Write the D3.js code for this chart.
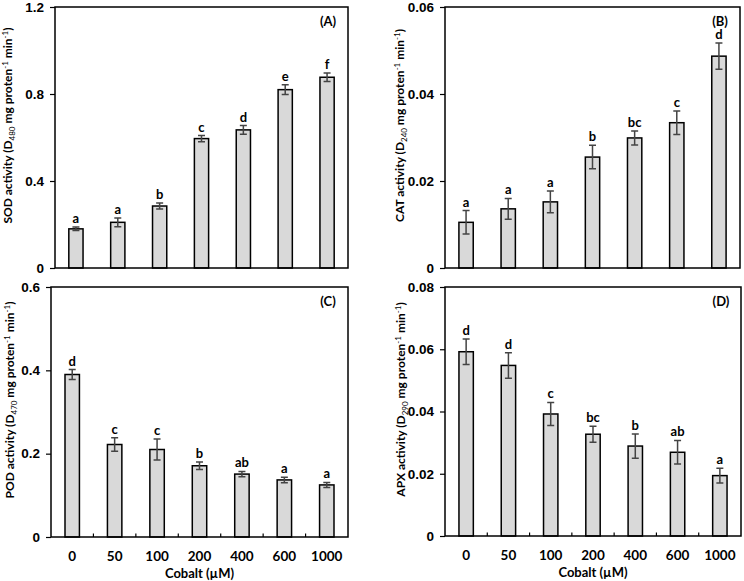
<!DOCTYPE html>
<html>
<head>
<meta charset="utf-8">
<script src="https://cdn.jsdelivr.net/npm/d3@7"></script>
<style>
    body { margin: 0; background: #fff; }
    svg { display: block; font-family: Lato, "Open Sans", sans-serif; }
    .frame { fill: none; stroke: #000; stroke-width: 1.5; }
    .bar { fill: #d9d9d9; stroke: #000; stroke-width: 1.5; }
    .err { stroke: #444; stroke-width: 1.5; fill: none; }
    .axis path, .axis line { stroke: #000; stroke-width: 1.2; }
    .axis text { font-size: 13.5px; font-weight: bold; fill: #000; }
    .letter { font-size: 13px; font-weight: bold; text-anchor: middle; }
    .panel-label { font-size: 13px; font-weight: bold; text-anchor: middle; }
    .y-title { font-size: 12px; font-weight: bold; text-anchor: middle; }
    .x-title { font-size: 13px; font-weight: bold; text-anchor: middle; }
</style>
</head>
<body>
<svg id="chart" width="744" height="581"></svg>
<script>
var doses = ['0', '50', '100', '200', '400', '600', '1000'];

var sodMean = [0.18, 0.21, 0.285, 0.595, 0.635, 0.82, 0.877];
var sodErr = [0.008, 0.02, 0.014, 0.014, 0.02, 0.022, 0.02];
var sodLetters = ['a', 'a', 'b', 'c', 'd', 'e', 'f'];

var catMean = [0.0105, 0.0136, 0.0152, 0.0255, 0.0299, 0.0334, 0.0487];
var catErr = [0.0027, 0.0024, 0.0025, 0.0027, 0.0016, 0.0027, 0.003];
var catLetters = ['a', 'a', 'a', 'b', 'bc', 'c', 'd'];

var podMean = [0.39, 0.222, 0.21, 0.171, 0.151, 0.137, 0.125];
var podErr = [0.012, 0.016, 0.025, 0.009, 0.0065, 0.0065, 0.006];
var podLetters = ['d', 'c', 'c', 'b', 'ab', 'a', 'a'];

var apxMean = [0.0592, 0.0548, 0.0392, 0.0327, 0.0289, 0.0269, 0.0194];
var apxErr = [0.0041, 0.0041, 0.0037, 0.0026, 0.0039, 0.0038, 0.0024];
var apxLetters = ['d', 'd', 'c', 'bc', 'b', 'ab', 'a'];

var svg = d3.select('#chart');

var barPanel = function(_config){
    var config = {
        box: null,          // [left, top, right, bottom]
        mean: null,
        err: null,
        letters: null,
        yMax: null,
        yTicks: null,
        yFormat: null,
        enzyme: null,
        wavelength: null,
        label: null,
        titleX: null,
        showX: false
    };
    for(var k in _config){ config[k] = _config[k]; }

    var box = config.box;
    var data = doses.map(function(d, i){
        return {dose: d, mean: config.mean[i], err: config.err[i], letter: config.letters[i]};
    });

    var scaleX = d3.scaleBand().domain(doses).range([box[0], box[2]]);
    var scaleY = d3.scaleLinear().domain([0, config.yMax]).range([box[3], box[1]]);
    var barW = scaleX.bandwidth() * 0.34;

    var g = svg.append('g');

    // y axis
    g.append('g')
        .attr('class', 'axis')
        .attr('transform', 'translate(' + box[0] + ',0)')
        .call(d3.axisLeft(scaleY)
            .tickValues(config.yTicks)
            .tickSize(5)
            .tickPadding(6)
            .tickFormat(config.yFormat))
        .select('.domain').remove();

    // inner ticks between categories
    if(config.showX){
        var edges = doses.slice(1).map(function(d){ return scaleX(d); });
        g.selectAll('line.xtick')
            .data(edges)
            .enter().append('line')
            .attr('class', 'xtick')
            .attr('x1', function(d){ return d; })
            .attr('x2', function(d){ return d; })
            .attr('y1', box[3])
            .attr('y2', box[3] - 3.5)
            .style('stroke', '#000')
            .style('stroke-width', 1.2);

        g.selectAll('text.xlab')
            .data(doses)
            .enter().append('text')
            .attr('class', 'xlab')
            .attr('x', function(d){ return scaleX(d) + scaleX.bandwidth() / 2; })
            .attr('y', box[3] + 24)
            .style('text-anchor', 'middle')
            .style('font-size', '13.5px')
            .style('font-weight', 'bold')
            .text(function(d){ return d; });

        g.append('text')
            .attr('class', 'x-title')
            .attr('x', (box[0] + box[2]) / 2)
            .attr('y', box[3] + 41)
            .text('Cobalt (\u00b5M)');
    }

    // bars
    g.selectAll('rect.bar')
        .data(data)
        .enter().append('rect')
        .attr('class', 'bar')
        .attr('x', function(d){ return scaleX(d.dose) + (scaleX.bandwidth() - barW) / 2; })
        .attr('width', barW)
        .attr('y', function(d){ return scaleY(d.mean); })
        .attr('height', function(d){ return box[3] - scaleY(d.mean); });

    // error bars
    var cx = function(d){ return scaleX(d.dose) + scaleX.bandwidth() / 2; };
    var errPath = function(d){
        var x = cx(d), y0 = scaleY(d.mean - d.err), y1 = scaleY(d.mean + d.err), c = 3.5;
        return 'M' + [[x, y0], [x, y1]].join('L') +
            'M' + [[x - c, y0], [x + c, y0]].join('L') +
            'M' + [[x - c, y1], [x + c, y1]].join('L');
    };
    g.selectAll('path.err')
        .data(data)
        .enter().append('path')
        .attr('class', 'err')
        .attr('d', errPath);

    // significance letters
    g.selectAll('text.letter')
        .data(data)
        .enter().append('text')
        .attr('class', 'letter')
        .attr('x', cx)
        .attr('y', function(d){ return scaleY(d.mean + d.err) - 4; })
        .text(function(d){ return d.letter; });

    // frame
    g.append('rect')
        .attr('class', 'frame')
        .attr('x', box[0])
        .attr('y', box[1])
        .attr('width', box[2] - box[0])
        .attr('height', box[3] - box[1]);

    // panel label
    g.append('text')
        .attr('class', 'panel-label')
        .attr('x', box[2] - 20)
        .attr('y', box[1] + 19)
        .text(config.label);

    // y title with sub/superscripts
    var midY = (box[1] + box[3]) / 2 - 12;
    var t = g.append('text')
        .attr('class', 'y-title')
        .attr('transform', 'translate(' + config.titleX + ',' + midY + ') rotate(-90)');
    t.append('tspan').text(config.enzyme + ' activity (D');
    t.append('tspan').attr('dy', 3).style('font-size', '8px').style('font-weight', 'normal').text(config.wavelength);
    t.append('tspan').attr('dy', -3).text(' mg proten');
    t.append('tspan').attr('dy', -4).style('font-size', '8px').style('font-weight', 'normal').text('-1');
    t.append('tspan').attr('dy', 4).text(' min');
    t.append('tspan').attr('dy', -4).style('font-size', '8px').style('font-weight', 'normal').text('-1');
    t.append('tspan').attr('dy', 4).text(')');

    return {};
};

barPanel({
    box: [55, 7, 348, 268], mean: sodMean, err: sodErr, letters: sodLetters,
    yMax: 1.2, yTicks: [0, 0.4, 0.8, 1.2], yFormat: function(d){ return d === 0 ? '0' : d3.format('.1f')(d); },
    enzyme: 'SOD', wavelength: '480', label: '(A)', titleX: 12
});
barPanel({
    box: [445, 7, 740, 268], mean: catMean, err: catErr, letters: catLetters,
    yMax: 0.06, yTicks: [0, 0.02, 0.04, 0.06], yFormat: function(d){ return d === 0 ? '0' : d3.format('.2f')(d); },
    enzyme: 'CAT', wavelength: '240', label: '(B)', titleX: 404
});
barPanel({
    box: [51, 287, 348, 537], mean: podMean, err: podErr, letters: podLetters,
    yMax: 0.6, yTicks: [0, 0.2, 0.4, 0.6], yFormat: function(d){ return d === 0 ? '0' : d3.format('.1f')(d); },
    enzyme: 'POD', wavelength: '470', label: '(C)', titleX: 14, showX: true
});
barPanel({
    box: [445, 287, 741, 536], mean: apxMean, err: apxErr, letters: apxLetters,
    yMax: 0.08, yTicks: [0, 0.02, 0.04, 0.06, 0.08], yFormat: function(d){ return d === 0 ? '0' : d3.format('.2f')(d); },
    enzyme: 'APX', wavelength: '290', label: '(D)', titleX: 405, showX: true
});
</script>
</body>
</html>
